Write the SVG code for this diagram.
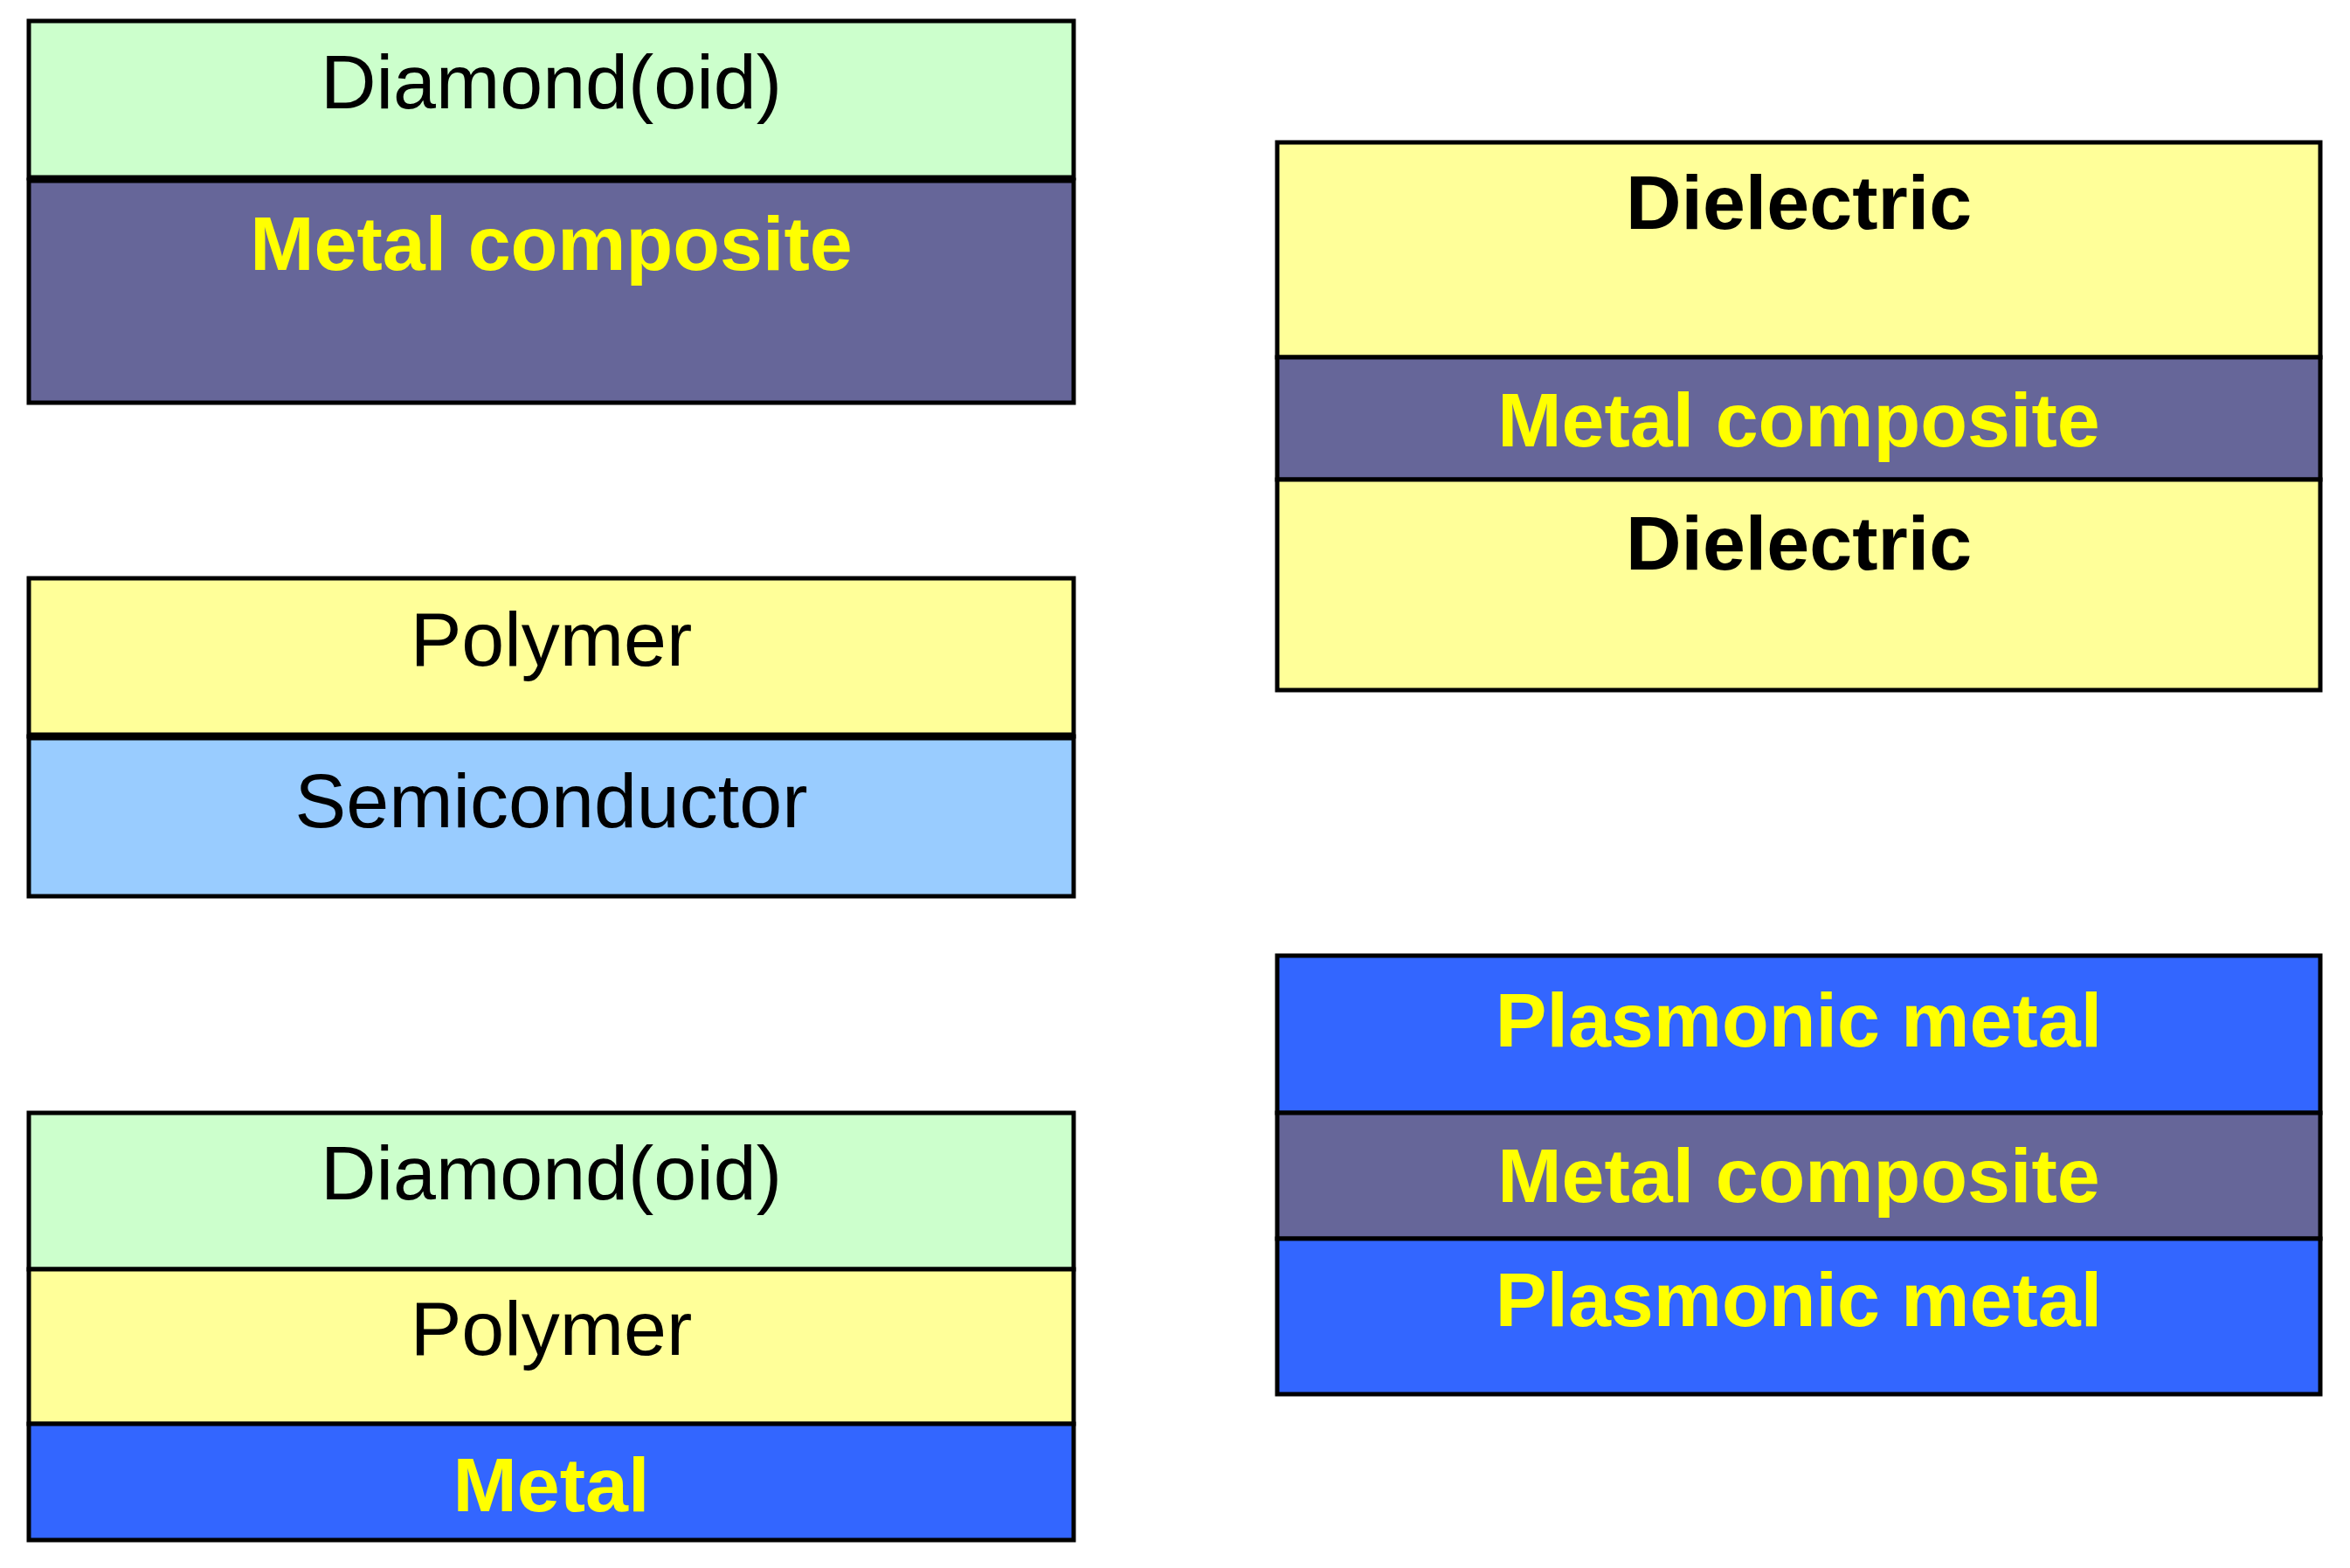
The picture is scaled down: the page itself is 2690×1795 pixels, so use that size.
<svg xmlns="http://www.w3.org/2000/svg" width="2690" height="1795" viewBox="0 0 2690 1795">
<style>
rect{stroke:#000;stroke-width:5}
.g{fill:#CCFFCC}.s{fill:#666699}.y{fill:#FFFF99}.lb{fill:#99CCFF}.b{fill:#3366FF}
text{font-family:"Liberation Sans",Arial,sans-serif;font-size:88px;text-anchor:middle}
.n{fill:#000}.bk{fill:#000;font-weight:bold}.yb{fill:#FFFF00;font-weight:bold}
</style>
<rect width="2690" height="1795" fill="#fff" style="stroke:none"/>
<g id="stack1">
<rect class="g" x="33" y="24" width="1196" height="180"/>
<rect class="s" x="33" y="206" width="1196" height="255"/>
<line x1="33" y1="205" x2="1229" y2="205" stroke="#000" stroke-width="9"/>
<text class="n" x="631" y="124">Diamond(oid)</text>
<text class="yb" x="631" y="309">Metal composite</text>
</g>
<g id="stack2">
<rect class="y" x="33" y="662" width="1196" height="181"/>
<rect class="lb" x="33" y="843" width="1196" height="183"/>
<line x1="33" y1="843" x2="1229" y2="843" stroke="#000" stroke-width="9"/>
<text class="n" x="631" y="762">Polymer</text>
<text class="n" x="631" y="947">Semiconductor</text>
</g>
<g id="stack3">
<rect class="g" x="33" y="1274" width="1196" height="179"/>
<rect class="y" x="33" y="1453" width="1196" height="177"/>
<rect class="b" x="33" y="1630" width="1196" height="133"/>
<text class="n" x="631" y="1373">Diamond(oid)</text>
<text class="n" x="631" y="1551">Polymer</text>
<text class="yb" x="631" y="1730">Metal</text>
</g>
<g id="stack4">
<rect class="y" x="1462" y="163" width="1194" height="246"/>
<rect class="s" x="1462" y="409" width="1194" height="140"/>
<rect class="y" x="1462" y="549" width="1194" height="241"/>
<text class="bk" x="2059" y="262">Dielectric</text>
<text class="yb" x="2059" y="511">Metal composite</text>
<text class="bk" x="2059" y="652">Dielectric</text>
</g>
<g id="stack5">
<rect class="b" x="1462" y="1094" width="1194" height="180"/>
<rect class="s" x="1462" y="1274" width="1194" height="144"/>
<rect class="b" x="1462" y="1418" width="1194" height="178"/>
<text class="yb" x="2059" y="1198">Plasmonic metal</text>
<text class="yb" x="2059" y="1376">Metal composite</text>
<text class="yb" x="2059" y="1518">Plasmonic metal</text>
</g>
<g id="connectors"/>
</svg>
